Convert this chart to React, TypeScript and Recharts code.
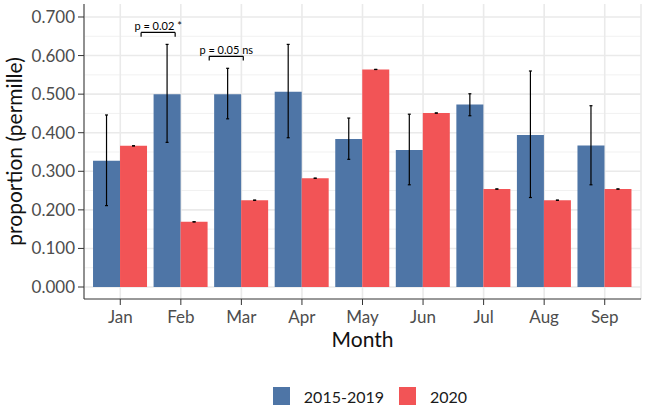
import React from 'react';
import {
  BarChart,
  Bar,
  XAxis,
  YAxis,
  CartesianGrid,
  ErrorBar,
  Legend,
  ReferenceLine,
} from 'recharts';

const FONT = 'Lato, "Open Sans", sans-serif';
const BLUE = '#4E75A6';
const RED = '#F25456';

// values (proportion, permille)
const months = ['Jan', 'Feb', 'Mar', 'Apr', 'May', 'Jun', 'Jul', 'Aug', 'Sep'];
const base = [0.327, 0.5, 0.5, 0.506, 0.384, 0.355, 0.473, 0.394, 0.367];
const baseLow = [0.211, 0.375, 0.436, 0.387, 0.331, 0.265, 0.444, 0.232, 0.265];
const baseHigh = [0.446, 0.629, 0.567, 0.629, 0.438, 0.448, 0.501, 0.56, 0.47];
const y2020 = [0.366, 0.169, 0.225, 0.282, 0.564, 0.451, 0.254, 0.225, 0.254];

const yTicks = [0, 0.1, 0.2, 0.3, 0.4, 0.5, 0.6, 0.7];
const minorTicks = [0.05, 0.15, 0.25, 0.35, 0.45, 0.55, 0.65];

// significance brackets
const bracketMonths = ['Feb', 'Mar'];
const bracketY = [0.66, 0.598];
const bracketText = ['p = 0.02 *', 'p = 0.05 ns'];
const TIP = 0.011;

const data = months.map((month, i) => ({
  month,
  base: base[i],
  baseErr: [base[i] - baseLow[i], baseHigh[i] - base[i]],
  y2020: y2020[i],
  err2020: [0, 0],
}));

const renderLegend = (props: any) => {
  const { payload } = props;
  return (
    <div
      style={{
        display: 'flex',
        justifyContent: 'center',
        alignItems: 'center',
        height: 24,
        paddingLeft: 30,
        fontFamily: FONT,
        fontSize: 16,
        color: '#1a1a1a',
      }}
    >
      {payload.map((entry: any) => (
        <div key={entry.value} style={{ display: 'flex', alignItems: 'center', marginRight: 15 }}>
          <span style={{ width: 17, height: 18, background: entry.color, marginRight: 14 }} />
          <span>{entry.value}</span>
        </div>
      ))}
    </div>
  );
};

const App: React.FC = () => {
  return (
    <div style={{ position: 'absolute', left: 0, top: 0, width: 645, height: 410, background: '#fff' }}>
      <BarChart
        width={645}
        height={410}
        data={data}
        margin={{ top: 4, right: 4, bottom: 2, left: 0 }}
        barCategoryGap="5%"
        barGap={0}
        style={{ fontFamily: FONT }}
      >
        <CartesianGrid horizontalValues={minorTicks} vertical={false} stroke="#F1F1F1" strokeWidth={1} />
        <CartesianGrid horizontalValues={yTicks} stroke="#EAEAEA" strokeWidth={1.6} />
        <XAxis
          dataKey="month"
          padding={{ left: 6, right: 6 }}
          height={85}
          tickSize={6}
          tickMargin={6}
          axisLine={{ stroke: '#333333' }}
          tickLine={{ stroke: '#333333' }}
          tick={{ fill: '#4D4D4D', fontSize: 17, fontFamily: FONT }}
          label={{ value: 'Month', position: 'insideTop', offset: 33, fontSize: 21, fill: '#111', fontFamily: FONT }}
        />
        <XAxis
          xAxisId="num"
          type="number"
          orientation="top"
          domain={[-0.5, 8.5]}
          allowDataOverflow
          padding={{ left: 6, right: 6 }}
          height={0}
          tick={false}
          tickLine={false}
          axisLine={{ stroke: '#333333' }}
        />
        <YAxis
          width={84}
          domain={[-0.0311, 0.7337]}
          allowDataOverflow
          ticks={yTicks}
          tickFormatter={(v: number) => v.toFixed(3)}
          tickSize={6}
          tickMargin={3}
          axisLine={{ stroke: '#333333' }}
          tickLine={{ stroke: '#333333' }}
          tick={{ fill: '#4D4D4D', fontSize: 17, fontFamily: FONT }}
          label={{
            value: 'proportion (permille)',
            angle: -90,
            position: 'insideLeft',
            offset: 15,
            fontSize: 21,
            fill: '#111',
            fontFamily: FONT,
            style: { textAnchor: 'middle' },
          }}
        />
        <YAxis
          yAxisId="right"
          orientation="right"
          width={0}
          domain={[-0.0311, 0.7337]}
          allowDataOverflow
          tick={false}
          tickLine={false}
          axisLine={{ stroke: '#333333' }}
        />
        <Legend verticalAlign="bottom" content={renderLegend} wrapperStyle={{ left: 84, width: 557 }} />
        <Bar dataKey="base" name="2015-2019" fill={BLUE} isAnimationActive={false}>
          <ErrorBar dataKey="baseErr" direction="y" width={1.5} stroke="#000" strokeWidth={1.2} isAnimationActive={false} />
        </Bar>
        <Bar dataKey="y2020" name="2020" fill={RED} isAnimationActive={false}>
          <ErrorBar dataKey="err2020" direction="y" width={1.5} stroke="#000" strokeWidth={1.2} isAnimationActive={false} />
        </Bar>
        {bracketMonths.map((m, k) => {
          const i = months.indexOf(m);
          const y = bracketY[k];
          return (
            <React.Fragment key={m}>
              <ReferenceLine
                xAxisId="num"
                segment={[{ x: i - 0.25, y }, { x: i + 0.25, y }]}
                stroke="#000"
                strokeWidth={1.2}
                label={{ value: bracketText[k], position: 'top', offset: 2, fontSize: 11, fill: '#000', fontFamily: FONT }}
              />
              <ReferenceLine xAxisId="num" segment={[{ x: i - 0.25, y }, { x: i - 0.25, y: y - TIP }]} stroke="#000" strokeWidth={1.2} />
              <ReferenceLine xAxisId="num" segment={[{ x: i + 0.25, y }, { x: i + 0.25, y: y - TIP }]} stroke="#000" strokeWidth={1.2} />
            </React.Fragment>
          );
        })}
      </BarChart>
    </div>
  );
};

export default App;
